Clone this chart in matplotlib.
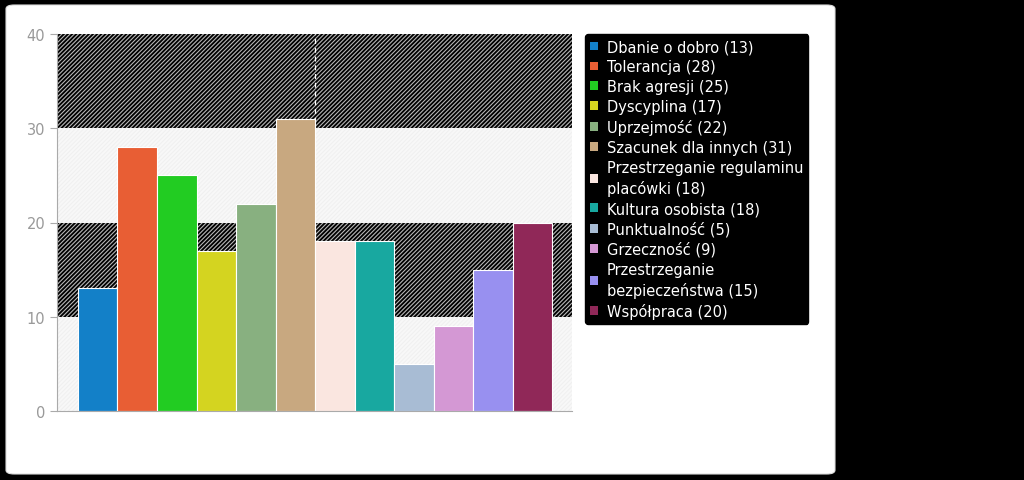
import matplotlib

matplotlib.use("Agg")

import matplotlib.pyplot as plt
from matplotlib.patches import FancyBboxPatch, Patch
import numpy as np

# values
labels = [
    "Dbanie o dobro",
    "Tolerancja",
    "Brak agresji",
    "Dyscyplina",
    "Uprzejmość",
    "Szacunek dla innych",
    "Przestrzeganie regulaminu\nplacówki",
    "Kultura osobista",
    "Punktualność",
    "Grzeczność",
    "Przestrzeganie\nbezpieczeństwa",
    "Współpraca",
]
values = [13, 28, 25, 17, 22, 31, 18, 18, 5, 9, 15, 20]
colors = [
    "#1380c8", "#e85e34", "#22cc22", "#d4d420", "#88b080", "#c8a880",
    "#fae6e0", "#18a8a0", "#a8bcd4", "#d498d4", "#9890f0", "#902858",
]
y_ticks = [0, 10, 20, 30, 40]
dark_bands = [(10, 20), (30, 40)]
light_bands = [(0, 10), (20, 30)]

plt.rcParams["hatch.linewidth"] = 0.8

fig = plt.figure(figsize=(10.24, 4.81), dpi=100, facecolor="black")

# white rounded panel behind the chart
panel = FancyBboxPatch(
    (6 / 1024, 6 / 481), 829 / 1024, 469 / 481,
    boxstyle="round,pad=0,rounding_size=0.008",
    transform=fig.transFigure, facecolor="white", edgecolor="#dddddd",
    linewidth=0.8, zorder=-5,
)
fig.patches.append(panel)

ax = fig.add_axes([57 / 1024, 1 - 412 / 481, 515 / 1024, 377 / 481])
ax.set_facecolor("none")

for lo, hi in dark_bands:
    ax.axhspan(lo, hi, facecolor="black", edgecolor="#b8b8b8",
               hatch="////////", linewidth=0, zorder=0)
for lo, hi in light_bands:
    ax.axhspan(lo, hi, facecolor="#f8f8f8", edgecolor="#f0f0f0",
               hatch="////////", linewidth=0, zorder=0)

x = np.arange(len(values))
ax.bar(x, values, width=1.0, color=colors, edgecolor="white",
       linewidth=0.8, zorder=2)

ax.axvline(5.5, color="white", linestyle=(0, (4, 3)), linewidth=0.9, zorder=1)

ax.set_xlim(-1.03, 12.0)
ax.set_ylim(0, 40)
ax.set_yticks(y_ticks)
ax.set_xticks([])
ax.tick_params(axis="y", colors="#aaaaaa", labelcolor="#999999",
               labelsize=10.5, length=5, width=0.8)
for side in ["top", "right"]:
    ax.spines[side].set_visible(False)
ax.spines["left"].set_color("#aaaaaa")
ax.spines["bottom"].set_color("#aaaaaa")

handles = [
    Patch(facecolor=c, edgecolor="none", label="{} ({})".format(l, v))
    for l, v, c in zip(labels, values, colors)
]
leg = fig.legend(
    handles=handles, loc="upper left", bbox_to_anchor=(585 / 1024, 1 - 35 / 481),
    borderaxespad=0, frameon=True, fancybox=True, facecolor="black",
    edgecolor="black", framealpha=1, fontsize=10.5, labelcolor="white",
    handlelength=0.55, handleheight=0.55, handletextpad=0.6,
    labelspacing=0.34, borderpad=0.35,
)
for t in leg.get_texts():
    t.set_linespacing(1.4)

fig.savefig("out.png", dpi=100, facecolor=fig.get_facecolor())
